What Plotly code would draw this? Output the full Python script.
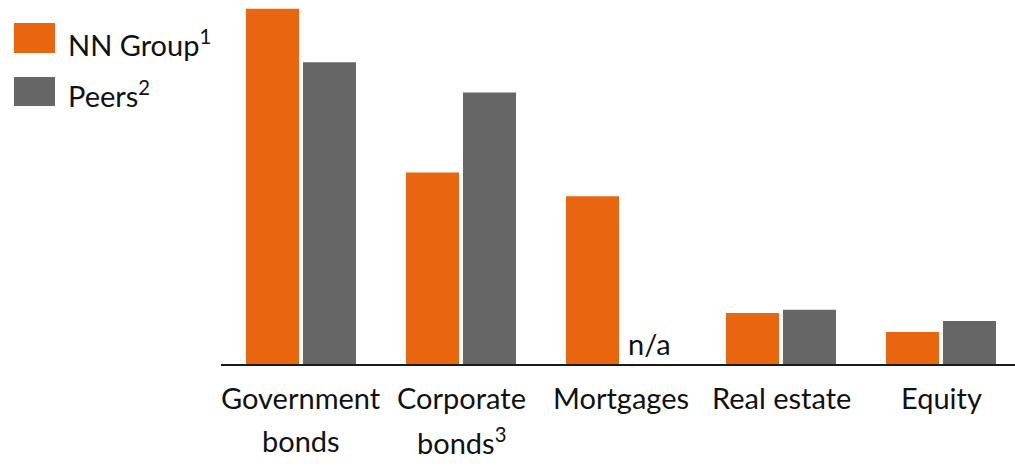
import plotly.graph_objects as go

categories = ["Government<br>bonds", "Corporate<br>bonds<sup>3</sup>", "Mortgages", "Real estate", "Equity"]
nn_group = [44.5, 24.0, 21.0, 6.4, 4.0]
peers = [37.8, 34.0, None, 6.8, 5.4]
series_names = ["NN Group<sup>1</sup>", "Peers<sup>2</sup>"]
na_label = "n/a"

ORANGE = "#EA6510"
GREY = "#666666"
TXT = "#111111"
FONT = "Lato"
FS = 29
W, H = 1015, 476
L, T, B = 221, 0, 112
PW, PH = W - L, H - T - B

def px_x(p):
    return (p - L) / PW

def px_y(p):
    return (H - B - p) / PH

fig = go.Figure()
fig.add_trace(go.Bar(x=categories, y=nn_group, name=series_names[0],
                     marker=dict(color=ORANGE, line=dict(width=0))))
fig.add_trace(go.Bar(x=categories, y=peers, name=series_names[1],
                     marker=dict(color=GREY, line=dict(width=0))))

annotations = []
# category labels (two-line labels with the wider line spacing of the original)
for c in categories:
    for i, ln in enumerate(c.split("<br>")):
        annotations.append(dict(x=c, xref="x", y=0, yref="paper", yanchor="middle",
                                yshift=-(33 + 43.5 * i), text=ln, showarrow=False,
                                font=dict(family=FONT, size=FS, color=TXT)))
# n/a marker for missing peers value
for c, v in zip(categories, peers):
    if v is None:
        annotations.append(dict(x=c, xref="x", y=0, yref="y", yanchor="bottom",
                                xshift=28.5, yshift=1, text=na_label, showarrow=False,
                                font=dict(family=FONT, size=FS, color=TXT)))

# custom legend (large square swatches)
shapes = []
legend_rows = [(ORANGE, 23, 53, 43), (GREY, 77, 106, 94)]
for (col, y0, y1, ty), name in zip(legend_rows, series_names):
    shapes.append(dict(type="rect", xref="paper", yref="paper",
                       x0=px_x(14), x1=px_x(55), y0=px_y(y1), y1=px_y(y0),
                       fillcolor=col, line=dict(width=0)))
    annotations.append(dict(x=px_x(66), xref="paper", xanchor="left",
                            y=px_y(ty), yref="paper", yanchor="middle",
                            text=name, showarrow=False,
                            font=dict(family=FONT, size=FS, color=TXT)))

fig.update_layout(
    width=W, height=H,
    margin=dict(l=L, r=0, t=T, b=B, pad=0),
    paper_bgcolor="white", plot_bgcolor="white",
    barmode="group", bargap=0.2875, bargroupgap=0.07,
    showlegend=False,
    annotations=annotations, shapes=shapes,
    font=dict(family=FONT, size=FS, color=TXT),
)
fig.update_xaxes(range=[-0.5, 4.4625], showticklabels=False, showgrid=False,
                 showline=True, linecolor="#1a1a1a", linewidth=2, ticks="", zeroline=False)
fig.update_yaxes(range=[0, 45.6], visible=False, showgrid=False, zeroline=False)

fig.write_html("out.html")
